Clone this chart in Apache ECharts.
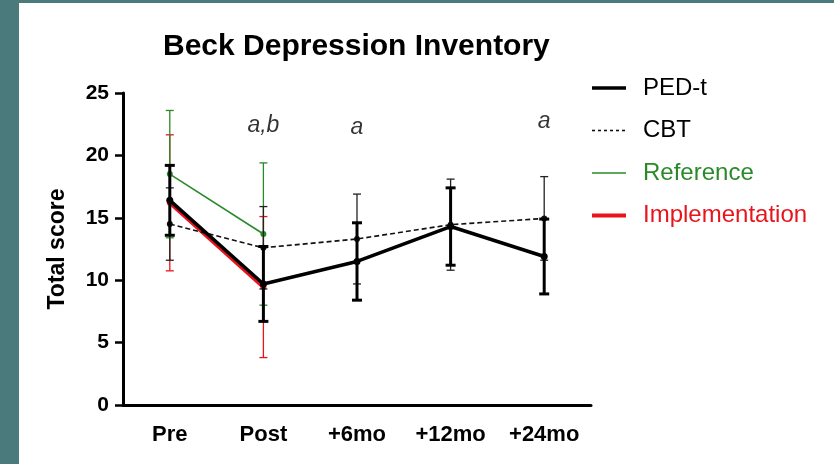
<!DOCTYPE html>
<html>
<head>
<meta charset="utf-8">
<script src="https://cdn.jsdelivr.net/npm/echarts@6/dist/echarts.min.js"></script>
<style>
  html, body { margin: 0; padding: 0; background: #fff; }
  #chart { width: 834px; height: 464px; }
</style>
</head>
<body>
<div id="chart"></div>
<script>
var categories = ['Pre', 'Post', '+6mo', '+12mo', '+24mo'];

var pedtMean = [16.4, 9.7, 11.5, 14.3, 11.9];
var pedtErr  = [2.8, 3.0, 3.1, 3.1, 3.0];
var cbtMean  = [14.5, 12.6, 13.3, 14.45, 14.95];
var cbtErr   = [2.9, 3.3, 3.6, 3.65, 3.35];
var refMean  = [18.5, 13.7, null, null, null];
var refErr   = [5.1, 5.7, null, null, null];
var implMean = [16.2, 9.45, null, null, null];
var implErr  = [5.45, 5.65, null, null, null];

var noteText = ['', 'a,b', 'a', '', 'a'];
var noteY    = [null, 22.4, 22.2, null, 22.7];

var FONT = 'Liberation Sans';
var GREEN = '#2a8a2a';
var RED = '#e8141c';

function errorBars(name, means, errs, color, width, capW, z) {
    var data = [];
    means.forEach(function (m, i) {
        if (m != null) data.push([i, m - errs[i], m + errs[i]]);
    });
    return {
        type: 'custom',
        name: name,
        z: z,
        silent: true,
        encode: { x: 0, y: [1, 2] },
        data: data,
        renderItem: function (params, api) {
            var lo = api.coord([api.value(0), api.value(1)]);
            var hi = api.coord([api.value(0), api.value(2)]);
            var st = { stroke: color, lineWidth: width };
            return {
                type: 'group',
                children: [
                    { type: 'line', shape: { x1: hi[0], y1: hi[1], x2: lo[0], y2: lo[1] }, style: st },
                    { type: 'line', shape: { x1: hi[0] - capW, y1: hi[1], x2: hi[0] + capW, y2: hi[1] }, style: st },
                    { type: 'line', shape: { x1: lo[0] - capW, y1: lo[1], x2: lo[0] + capW, y2: lo[1] }, style: st }
                ]
            };
        }
    };
}

var notes = [];
noteY.forEach(function (v, i) {
    if (v != null) notes.push({ value: [i, v], label: { formatter: noteText[i] } });
});

var chart = echarts.init(document.getElementById('chart'));
chart.setOption({
    backgroundColor: '#fff',
    animation: false,
    graphic: [
        { type: 'rect', shape: { x: 0, y: 0, width: 19, height: 464 }, style: { fill: '#4a7a7c' } },
        { type: 'rect', shape: { x: 0, y: 0, width: 834, height: 3 }, style: { fill: '#4a7a7c' } }
    ],
    title: {
        text: 'Beck Depression Inventory',
        left: 158,
        top: 27,
        textStyle: { fontFamily: FONT, fontSize: 30, fontWeight: 'bold', color: '#000' }
    },
    legend: {
        orient: 'vertical',
        left: 590,
        top: 76,
        padding: 0,
        itemWidth: 34,
        itemHeight: 14,
        itemGap: 18.5,
        data: [
            { name: 'PED-t', lineStyle: { width: 3.5 }, textStyle: { color: '#000' } },
            { name: 'CBT', lineStyle: { width: 1.6, type: [3, 3] }, textStyle: { color: '#000' } },
            { name: 'Reference', lineStyle: { width: 1.6 }, textStyle: { color: GREEN } },
            { name: 'Implementation', lineStyle: { width: 4 }, textStyle: { color: RED } }
        ],
        itemStyle: { color: 'rgba(0,0,0,0)', borderWidth: 0 },
        textStyle: {
            fontFamily: FONT, fontSize: 24, lineHeight: 24,
            padding: [0, 0, 0, 12]
        }
    },
    grid: { left: 123, right: 243, top: 93, bottom: 59 },
    xAxis: {
        type: 'category',
        data: categories,
        axisLine: { lineStyle: { color: '#000', width: 3 } },
        axisTick: { alignWithLabel: true, length: 8, lineStyle: { color: '#000', width: 2.5 } },
        axisLabel: { margin: 19, fontFamily: FONT, fontSize: 22, fontWeight: 'bold', color: '#000' }
    },
    yAxis: {
        type: 'value',
        min: 0,
        max: 25,
        interval: 5,
        name: 'Total score',
        nameLocation: 'middle',
        nameGap: 54,
        nameTextStyle: { fontFamily: FONT, fontSize: 23, fontWeight: 'bold', color: '#000' },
        splitLine: { show: false },
        axisLine: { show: true, lineStyle: { color: '#000', width: 3 } },
        axisTick: { show: true, length: 8, lineStyle: { color: '#000', width: 2.5 } },
        axisLabel: { margin: 14, fontFamily: FONT, fontSize: 21, fontWeight: 'bold', color: '#000' }
    },
    series: [
        errorBars('Implementation SD', implMean, implErr, RED, 1.3, 4, 2),
        errorBars('Reference SD', refMean, refErr, GREEN, 1.3, 4, 3),
        errorBars('CBT SD', cbtMean, cbtErr, '#222', 1.3, 4, 4),
        errorBars('PED-t SD', pedtMean, pedtErr, '#000', 3, 5, 5),
        {
            name: 'Implementation', type: 'line', z: 2, data: implMean,
            symbol: 'circle', symbolSize: 6,
            itemStyle: { color: RED },
            lineStyle: { color: RED, width: 4 }
        },
        {
            name: 'Reference', type: 'line', z: 3, data: refMean,
            symbol: 'circle', symbolSize: 6,
            itemStyle: { color: GREEN },
            lineStyle: { color: GREEN, width: 1.6 }
        },
        {
            name: 'CBT', type: 'line', z: 4, data: cbtMean,
            symbol: 'circle', symbolSize: 6,
            itemStyle: { color: '#111' },
            lineStyle: { color: '#111', width: 1.6, type: [5, 3] }
        },
        {
            name: 'PED-t', type: 'line', z: 5, data: pedtMean,
            symbol: 'circle', symbolSize: 7,
            itemStyle: { color: '#000' },
            lineStyle: { color: '#000', width: 3.5 }
        },
        {
            name: 'notes', type: 'scatter', z: 6, silent: true,
            symbol: 'circle', symbolSize: 1,
            itemStyle: { color: 'rgba(0,0,0,0)' },
            data: notes,
            label: {
                show: true, position: 'inside',
                fontFamily: FONT, fontSize: 23, fontStyle: 'italic', color: '#000'
            }
        }
    ]
});
</script>
</body>
</html>
